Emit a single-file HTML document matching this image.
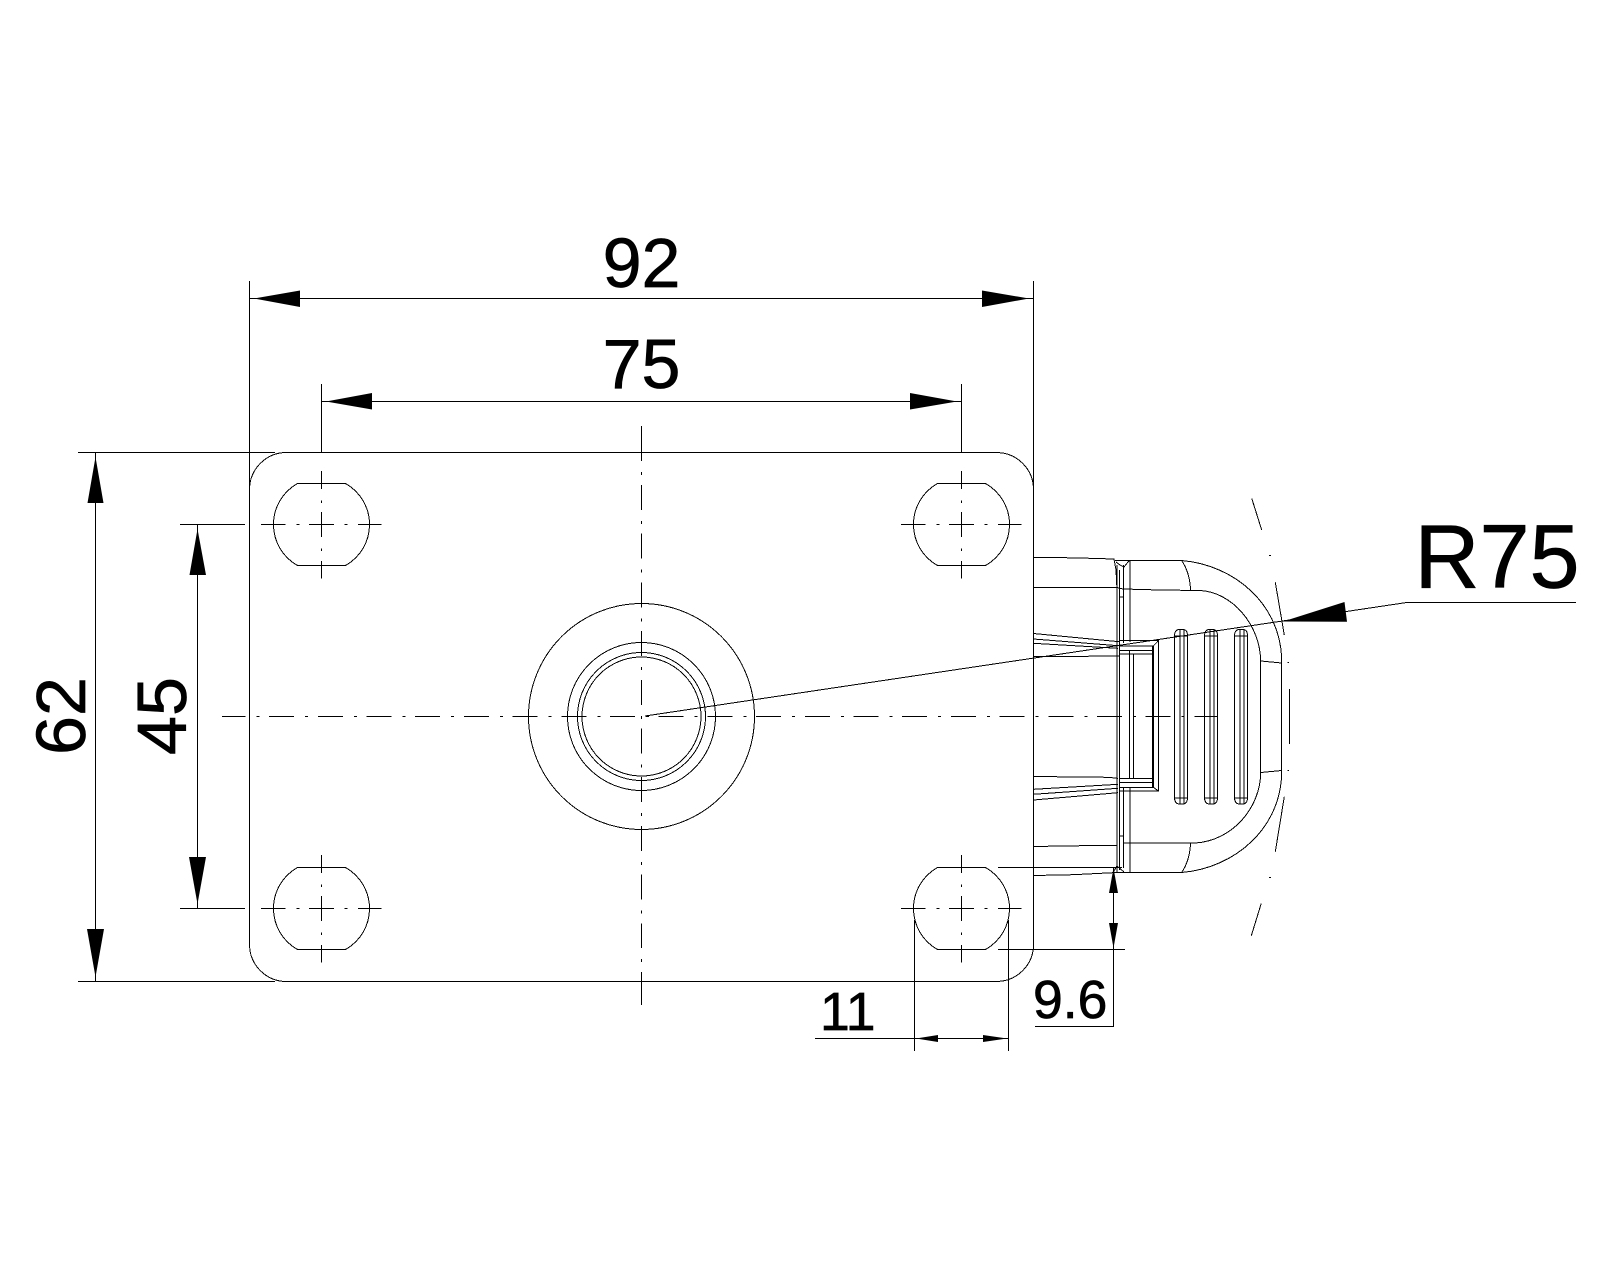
<!DOCTYPE html>
<html>
<head>
<meta charset="utf-8">
<title>Drawing</title>
<style>
html,body{margin:0;padding:0;background:#fff;width:1600px;height:1280px;overflow:hidden}
svg{display:block}
text{font-family:"Liberation Sans",sans-serif;fill:#000;stroke:#000;stroke-width:.7px}
.l path,.l line,.l circle,.l rect{fill:none;stroke:#000;stroke-width:1}
</style>
</head>
<body>
<svg width="1600" height="1280" viewBox="0 0 1600 1280" xmlns="http://www.w3.org/2000/svg">
<defs>
<g id="hole" fill="none" stroke="#000" stroke-width="1" shape-rendering="crispEdges">
<path d="M-24 -41H24A47 47 0 0 1 24 41H-24A47 47 0 0 1 -24 -41Z"/>
<path d="M-60.5 0H-36M-25 0H-22M-12.5 0H12.5M23 0H26M36.5 0H60"/>
<path d="M0 -53.5V-35.5M0 -24V-21.5M0 -12.5V12.5M0 24V26.5M0 36.5V54"/>
</g>
<g id="rib" fill="none" stroke="#000" stroke-width="1" shape-rendering="crispEdges">
<path d="M0 636Q0 629.5 5 629.5H8.5Q13 629.5 13 636V797Q13 804 8.5 804H5Q0 804 0 797Z"/>
<path d="M5.5 630V803.5M9.5 630V803.5M0 636H13M0 798H13"/>
</g>
</defs>

<g class="l" shape-rendering="crispEdges">
<!-- plate -->
<rect x="249.5" y="452.5" width="784" height="529" rx="37" ry="37"/>
<!-- extension lines -->
<path d="M249.5 281V490M1033.5 281V490"/>
<path d="M321.5 384V453M961.5 384V453"/>
<path d="M78 452.5H275M78 981.5H275"/>
<path d="M180 524.5H245M180 908.5H245"/>
<!-- dim lines -->
<path d="M249.5 298.5H1033.5"/>
<path d="M321.5 401.5H961.5"/>
<path d="M95.5 452.5V981.5"/>
<path d="M197.5 524.5V908.5"/>
<path d="M998 867.5H1122M998 949.5H1125"/>
<path d="M1113.5 867.5V1026.5H1035"/>
<path d="M914.5 920V1051M1008.5 920V1051"/>
<path d="M815 1038.5H1008.5"/>
<path d="M1576 602.5H1406.7L645 716"/>

<!-- holes -->
<use href="#hole" x="321.5" y="524.5"/>
<use href="#hole" x="961.5" y="524.5"/>
<use href="#hole" x="321.5" y="908.5"/>
<use href="#hole" x="961.5" y="908.5"/>

<!-- centre circles -->
<circle cx="641.5" cy="716.5" r="113"/>
<circle cx="641.5" cy="716.5" r="74"/>
<circle cx="641.5" cy="716.5" r="64"/>
<circle cx="641.5" cy="716.5" r="59.5"/>

<!-- centre lines -->
<path d="M222 716.5H1217" stroke-dasharray="25 11 3 9.7" stroke-dashoffset="1.6"/>
<path d="M641.5 485V948" stroke-dasharray="25 11 3 9.7"/>
<path d="M641.5 426V461M641.5 472V475M641.5 959V962M641.5 972V1005"/>

<!-- gland left body -->
<path d="M1033.5 557.5L1073 557.8L1114 559L1116 570L1117 590"/>
<path d="M1033.5 587.5H1117L1123 589L1160 590L1200 590.5C1232 592 1260.7 625 1260.7 662V772C1260.7 808 1232 841 1195 843H1123"/>
<path d="M1115 560.5H1181.7C1235 565 1281.7 605 1281.7 662V771C1281.7 828 1235 868 1181.7 872.5H1113"/>
<path d="M1181.7 560.5Q1190 573 1190.5 590M1181.7 872.5Q1190 860 1190.5 843"/>
<path d="M1260.7 661L1281.7 663M1260.7 772.5L1281.7 770.5"/>
<path d="M1033.5 846.5L1075 845.8L1116.7 845.3M1033.5 875.5L1073 874.7L1113 872.7"/>

<!-- vertical strips -->
<path d="M1117 565V872M1119.5 570V870"/>
<path d="M1123.5 565V643M1130 561V642M1123.5 788V868M1130 788V872"/>
<path d="M1116 562L1120 565L1124 567L1128 562L1130 560.5M1119.5 597H1123.5M1119.5 836H1123.5"/>
<path d="M1113 872.5L1117 866L1124 872"/>

<!-- window -->
<path d="M1119 640.7H1158.5V791H1119"/>
<path d="M1119 646H1153.3V787.3H1119"/>
<path d="M1119 650.7H1152.5V782.5H1119"/>
<path d="M1119 654H1152M1119 778.5H1152"/>
<path d="M1153.3 646L1158.5 640.7M1153.3 787.3L1158.5 791"/>
<path d="M1129.5 651V778.5M1133.5 654V778.5"/>
<path d="M1152.5 646V787M1153.5 646V787"/>

<!-- tapered lines -->
<path d="M1033.5 633.5L1119 641.7M1033.5 639L1118 645.7M1033.5 643.3L1118 648.3M1033.5 656.7L1119 656"/>
<path d="M1033.5 776.5L1108 777.3L1118 778.3M1033.5 789.3L1118 784.3M1033.5 794.3L1118 788.3M1033.5 800L1118 792.7"/>

<!-- ribs -->
<use href="#rib" x="1174.5"/>
<use href="#rib" x="1204.5"/>
<use href="#rib" x="1234.5"/>

<!-- R75 phantom arc -->
<path d="M1251.7 498.3L1261.7 530M1269 555.5H1271M1275.3 582.3L1284.3 635M1287.3 662.5H1289"/>
<path d="M1289.5 689V744M1287.3 770.5H1289M1284.3 796.7L1275.3 851.7M1269 877.5H1271M1261.3 903.3L1251.3 935.7"/>
</g>

<!-- arrowheads -->
<g fill="#000" stroke="none">
<polygon points="254,298.5 300,290.5 300,307"/>
<polygon points="1029,298.5 982,290.5 982,307"/>
<polygon points="326,401.5 372,393 372,409.5"/>
<polygon points="957,401.5 910,393 910,409.5"/>
<polygon points="95.5,457 87.5,503 103.5,503"/>
<polygon points="95.5,977 87,929 104,929"/>
<polygon points="197.5,529 189.5,575 206,575"/>
<polygon points="197.5,904 189,857 206,857"/>
<polygon points="1113.5,868 1109,893 1118,893"/>
<polygon points="1113.5,948 1109,923 1118,923"/>
<polygon points="916,1038.5 938,1035 938,1042"/>
<polygon points="1007,1038.5 983,1035 983,1042"/>
<polygon points="1283,621.5 1344.5,602 1347,621.8"/>
</g>

<!-- labels -->
<text x="641.5" y="287" font-size="70" text-anchor="middle">92</text>
<text x="641.5" y="388" font-size="70" text-anchor="middle">75</text>
<text transform="translate(85 716) rotate(-90)" font-size="70" text-anchor="middle">62</text>
<text transform="translate(186 716) rotate(-90)" font-size="70" text-anchor="middle">45</text>
<text x="1414.5" y="587.5" font-size="90">R75</text>
<text x="1033" y="1018" font-size="53.5">9.6</text>
<text x="820" y="1030" font-size="53.5">11</text>
</svg>
</body>
</html>
